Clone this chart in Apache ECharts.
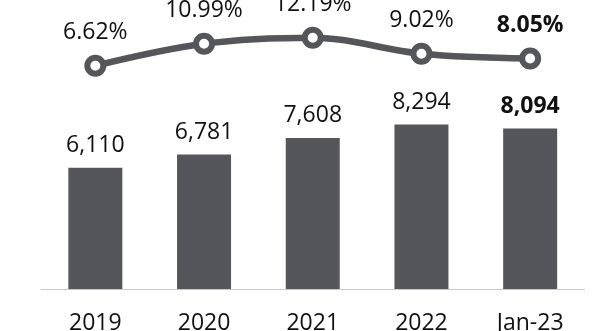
<!DOCTYPE html>
<html>
<head>
<meta charset="utf-8">
<style>
  html, body { margin: 0; padding: 0; background: #ffffff; }
  #chart { width: 608px; height: 331px; }
</style>
<script src="https://cdn.jsdelivr.net/npm/echarts@6/dist/echarts.min.js"></script>
</head>
<body>
<div id="chart"></div>
<script>
// Yearly totals (bars) and year-over-year growth in percent (line)
const categories = ['2019', '2020', '2021', '2022', 'Jan-23'];
const totals = [6110, 6781, 7608, 8294, 8094];
const growth = [6.62, 10.99, 12.19, 9.02, 8.05];

const ink = '#55565b';
const textColor = '#111111';
const fontFamily = '"Open Sans", "Liberation Sans", sans-serif';
const lastIndex = categories.length - 1;

// The latest period is highlighted with bold labels
function withEmphasisOnLast(values) {
  return values.map((v, i) => i === lastIndex
    ? { value: v, label: { fontWeight: 'bold' } }
    : v);
}

const chart = echarts.init(document.getElementById('chart'), null, { renderer: 'canvas' });

chart.setOption({
  animation: false,
  backgroundColor: '#ffffff',
  grid: { left: 41, right: 23.5, top: 0, bottom: 42, outerBoundsMode: 'none', containLabel: false },
  xAxis: {
    type: 'category',
    data: categories,
    axisLine: { show: true, lineStyle: { color: '#c8c8c8', width: 1 } },
    axisTick: { show: false },
    axisLabel: {
      color: textColor,
      fontFamily: fontFamily,
      fontSize: 23,
      margin: 23
    }
  },
  yAxis: [
    { type: 'value', min: 0, max: 14570, show: false, splitLine: { show: false } },
    { type: 'value', min: -37.8, max: 19.7, show: false, splitLine: { show: false } }
  ],
  series: [
    {
      name: 'Total',
      type: 'bar',
      yAxisIndex: 0,
      barWidth: 54,
      data: withEmphasisOnLast(totals),
      itemStyle: { color: ink },
      label: {
        show: true,
        position: 'top',
        distance: 11,
        color: textColor,
        fontFamily: fontFamily,
        fontSize: 23,
        formatter: p => p.value.toLocaleString('en-US')
      }
    },
    {
      name: 'Growth',
      type: 'line',
      yAxisIndex: 1,
      smooth: 0.35,
      data: withEmphasisOnLast(growth),
      lineStyle: { color: ink, width: 6.5 },
      symbol: 'circle',
      symbolSize: 16,
      itemStyle: { color: '#ffffff', borderColor: ink, borderWidth: 6 },
      label: {
        show: true,
        position: 'top',
        distance: 11,
        color: textColor,
        fontFamily: fontFamily,
        fontSize: 23,
        formatter: p => p.value.toFixed(2) + '%'
      },
      z: 3
    }
  ]
});
</script>
</body>
</html>
